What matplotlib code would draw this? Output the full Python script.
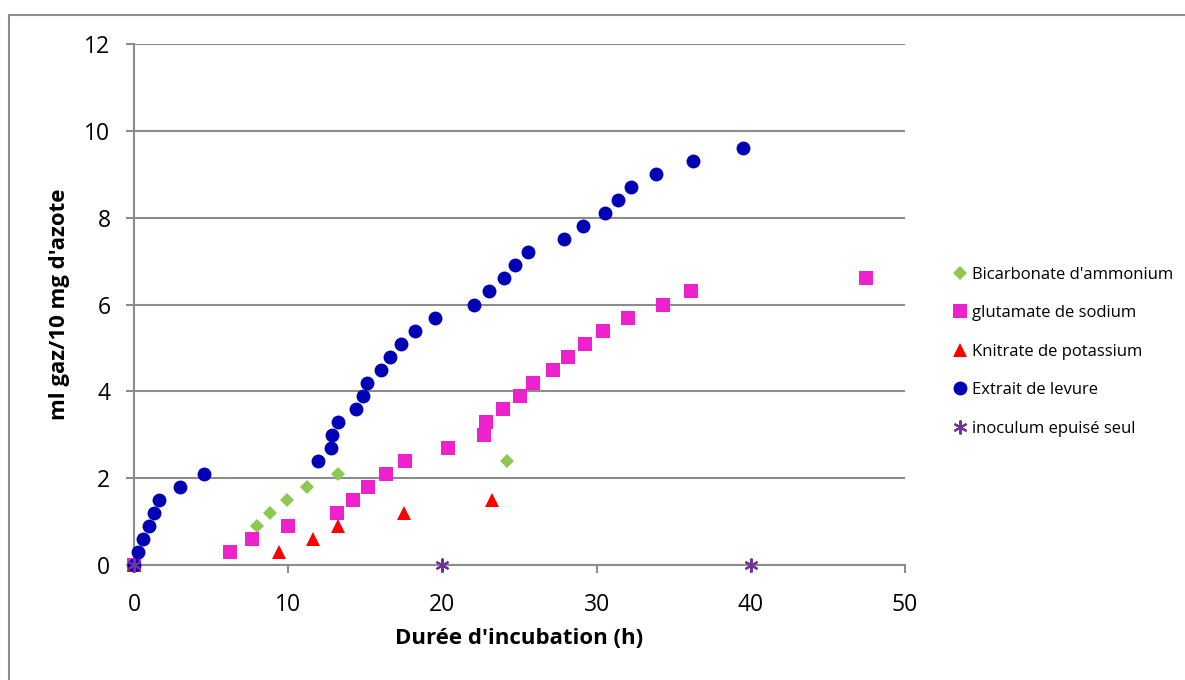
import matplotlib.pyplot as plt
from matplotlib.patches import Rectangle

# Bicarbonate d'ammonium
bic_x = [0, 7.95, 8.85, 9.95, 11.25, 13.2, 24.2]
bic_y = [0, 0.9, 1.2, 1.5, 1.8, 2.1, 2.4]

# glutamate de sodium
glu_x = [0, 6.2, 7.65, 10.0, 13.15, 14.2, 15.2, 16.35, 17.6, 20.35, 22.7, 22.8,
         23.9, 25.0, 25.85, 27.15, 28.15, 29.25, 30.4, 32.05, 34.3, 36.1, 47.5]
glu_y = [0, 0.3, 0.6, 0.9, 1.2, 1.5, 1.8, 2.1, 2.4, 2.7, 3.0, 3.3,
         3.6, 3.9, 4.2, 4.5, 4.8, 5.1, 5.4, 5.7, 6.0, 6.3, 6.6]

# Knitrate de potassium
kno_x = [0, 9.4, 11.6, 13.2, 17.5, 23.2]
kno_y = [0, 0.3, 0.6, 0.9, 1.2, 1.5]

# Extrait de levure
ext_x = [0, 0.25, 0.6, 1.0, 1.3, 1.65, 3.0, 4.55, 11.95, 12.75, 12.85, 13.25,
         14.4, 14.85, 15.1, 16.0, 16.6, 17.3, 18.2, 19.5, 22.05, 23.0, 24.0,
         24.7, 25.55, 27.9, 29.1, 30.55, 31.4, 32.25, 33.85, 36.25, 39.5]
ext_y = [0, 0.3, 0.6, 0.9, 1.2, 1.5, 1.8, 2.1, 2.4, 2.7, 3.0, 3.3,
         3.6, 3.9, 4.2, 4.5, 4.8, 5.1, 5.4, 5.7, 6.0, 6.3, 6.6,
         6.9, 7.2, 7.5, 7.8, 8.1, 8.4, 8.7, 9.0, 9.3, 9.6]

# inoculum epuisé seul
ino_x = [0, 20, 40]
ino_y = [0, 0, 0]

plt.rcParams['font.family'] = ['Open Sans', 'DejaVu Sans']

fig = plt.figure(figsize=(11.85, 6.8), dpi=100)
ax = fig.add_axes([134 / 1185, 1 - 565 / 680, (905 - 134) / 1185, (565 - 44) / 680])

# outer chart border
fig.patches.append(Rectangle((9 / 1185, -0.01), 1.2, 1 - 15 / 680 + 0.01,
                             transform=fig.transFigure, fill=False,
                             edgecolor='#8c8c8c', linewidth=1.5))

series = [
    (bic_x, bic_y, 'D', '#8DC850', 7, "Bicarbonate d'ammonium"),
    (glu_x, glu_y, 's', '#EE22CC', 9.5, 'glutamate de sodium'),
    (kno_x, kno_y, '^', '#FF0000', 9.5, 'Knitrate de potassium'),
    (ext_x, ext_y, 'o', '#0000B4', 10, 'Extrait de levure'),
    (ino_x, ino_y, (6, 2, 0), '#7030A0', 10, 'inoculum epuisé seul'),
]
for x, y, m, c, s, lab in series:
    ax.plot(x, y, linestyle='none', marker=m, color=c, markersize=s,
            markeredgewidth=1.5 if m == (6, 2, 0) else 0, label=lab,
            clip_on=False, zorder=3)

ax.set_xlim(0, 50)
ax.set_ylim(0, 12)
ax.set_xticks(range(0, 51, 10))
ax.set_yticks(range(0, 13, 2))
ax.grid(axis='y', color='#8c8c8c', linewidth=1.5)
ax.set_axisbelow(True)
for side in ['top', 'right']:
    ax.spines[side].set_visible(False)
for side in ['left', 'bottom']:
    ax.spines[side].set_color('#8c8c8c')
    ax.spines[side].set_linewidth(1.5)
ax.tick_params(colors='#8c8c8c', labelcolor='black', labelsize=16.5,
               length=6, width=1.5)
ax.tick_params(axis='y', pad=11)
ax.tick_params(axis='x', pad=14)

ax.set_xlabel("Durée d'incubation (h)", fontsize=16, fontweight='bold', labelpad=8)
ax.set_ylabel("ml gaz/10 mg d'azote", fontsize=16, fontweight='bold', labelpad=10)

fig.legend(loc='upper left', bbox_to_anchor=(947 / 1185, 1 - 260 / 680),
           frameon=False, fontsize=12, labelspacing=1.35, handlelength=0.8,
           handletextpad=0.3, borderaxespad=0)

plt.savefig('out.png', dpi=100)
